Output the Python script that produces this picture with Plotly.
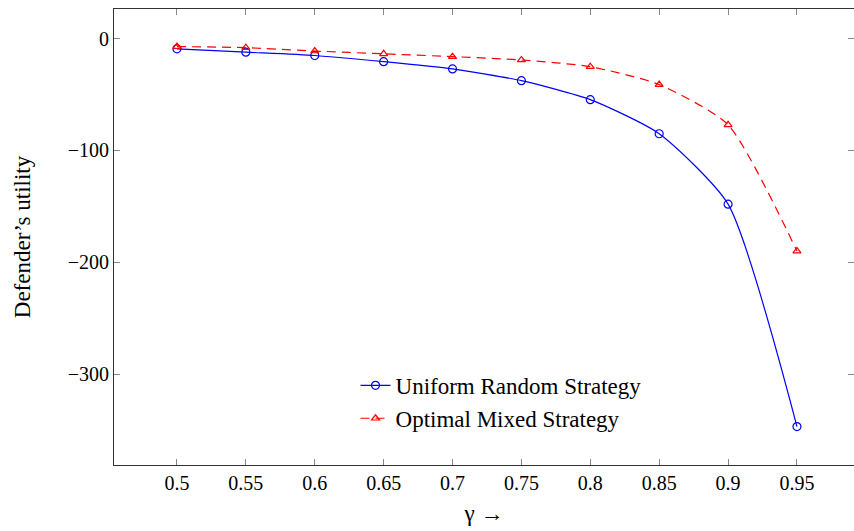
import plotly.graph_objects as go

gamma = [0.5, 0.55, 0.6, 0.65, 0.7, 0.75, 0.8, 0.85, 0.9, 0.95]
uniform = [-9, -12, -15, -20.5, -27, -37.5, -54.5, -85, -148, -347]
optimal = [-7, -8, -11, -13.5, -16, -19, -25, -41, -77, -190]
xticks = [0.5, 0.55, 0.6, 0.65, 0.7, 0.75, 0.8, 0.85, 0.9, 0.95]
xtick_text = ["0.5", "0.55", "0.6", "0.65", "0.7", "0.75", "0.8", "0.85", "0.9", "0.95"]
yticks = [0, -100, -200, -300]

FONT = "Liberation Serif"

fig = go.Figure()
fig.add_trace(go.Scatter(
    x=gamma, y=uniform, mode="lines+markers", name="Uniform Random Strategy",
    line=dict(color="blue", width=1.2, shape="spline", smoothing=0.6),
    marker=dict(symbol="circle-open", size=8, color="blue", line=dict(width=1.2)),
))
fig.add_trace(go.Scatter(
    x=gamma, y=optimal, mode="lines+markers", name="Optimal Mixed Strategy",
    line=dict(color="red", width=1.2, dash="9px,6px", shape="spline", smoothing=0.6),
    marker=dict(symbol="triangle-up-open", size=7, color="red", line=dict(width=1.2)),
))

fig.update_layout(
    width=854, height=531,
    margin=dict(l=114, r=0, t=9, b=66),
    paper_bgcolor="white", plot_bgcolor="white",
    font=dict(family=FONT, size=20, color="black"),
    showlegend=True,
    legend=dict(x=0.523, y=0.055, xanchor="center", yanchor="bottom",
                bgcolor="rgba(255,255,255,0)", borderwidth=0,
                tracegroupgap=0,
                font=dict(family=FONT, size=23)),
)
fig.update_xaxes(
    range=[0.4543, 0.9914], tickvals=xticks, ticktext=xtick_text,
    ticks="inside", ticklen=6, tickcolor="#888888", mirror="ticks",
    showline=True, linecolor="#333333", linewidth=1, showgrid=False, zeroline=False,
    title=dict(text="γ →", standoff=11, font=dict(size=23)),
    tickfont=dict(size=20),
)
fig.update_yaxes(
    range=[-381.4, 26.6], tickvals=yticks,
    ticks="inside", ticklen=6, tickcolor="#888888", mirror="ticks",
    showline=True, linecolor="#333333", linewidth=1, showgrid=False, zeroline=False,
    title=dict(text="Defender’s utility", standoff=30, font=dict(size=23)),
    tickfont=dict(size=20),
)

fig.write_html("out.html", config={"displayModeBar": False},
               post_script="document.body.style.margin='0';document.body.style.padding='0';")
